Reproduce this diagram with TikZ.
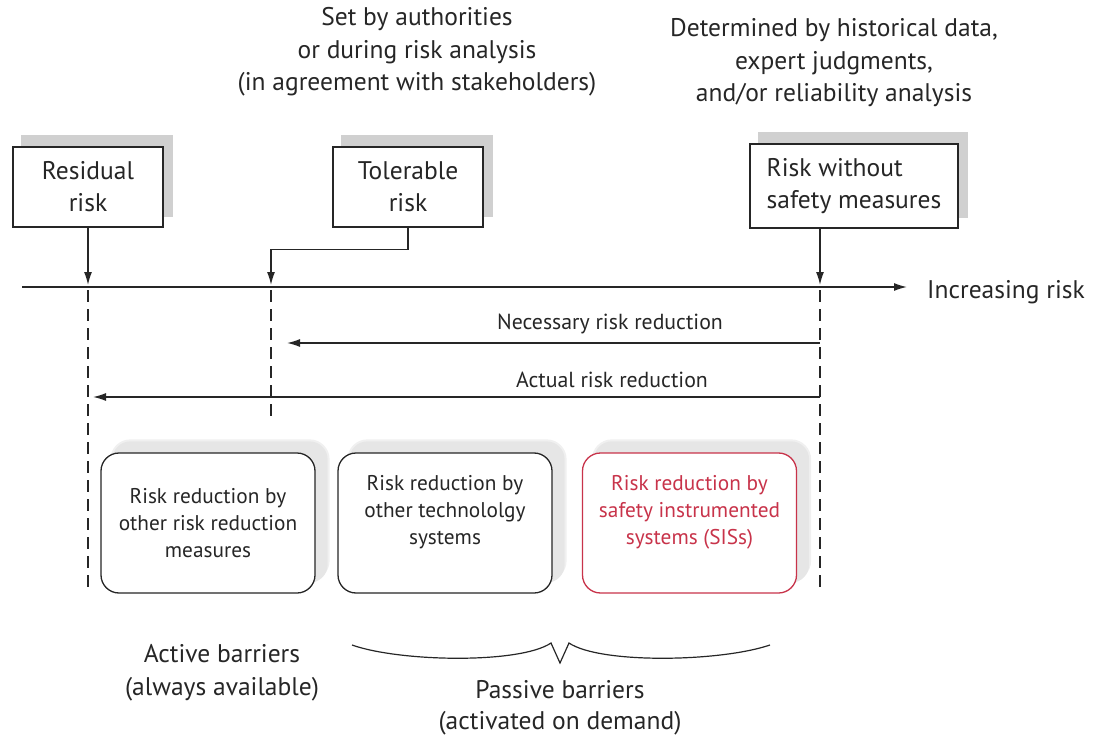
\documentclass[tikz,border=0pt]{standalone}
\usepackage{fontspec}
\setmainfont{PT Sans}
\usetikzlibrary{arrows.meta,backgrounds}
\definecolor{ink}{HTML}{262626}
\definecolor{boxshade}{HTML}{D0D0D0}
\definecolor{softshade}{HTML}{E6E6E6}
\definecolor{sisred}{HTML}{C8334A}
\begin{document}
\begin{tikzpicture}[x=1pt,y=-1pt,
  every node/.style={text=ink, inner sep=0pt},
  labelbox/.style={draw=ink, line width=1.4pt, fill=white, minimum width=150pt,
    minimum height=80pt, align=center, font=\fontsize{25.5}{32}\selectfont},
  barrier/.style={draw=ink, line width=1.3pt, fill=white, rounded corners=18pt,
    minimum width=214pt, minimum height=140pt, align=center,
    font=\fontsize{21.3}{27}\selectfont},
  notetext/.style={align=center, font=\fontsize{25.5}{32.5}\selectfont},
  smalltext/.style={font=\fontsize{21.8}{24}\selectfont},
  linkarrow/.style={draw=ink, line width=1.4pt, -{Latex[length=13pt,width=8pt]}},
  guideline/.style={draw=ink, line width=1.3pt, dash pattern=on 12pt off 7pt},
]
\useasboundingbox (0,0) rectangle (1095,738);

% explanatory notes above the boxes
\node[notetext] (authnote) at (417,52) {Set by authorities\\or during risk analysis\\(in agreement with stakeholders)};
\node[notetext] (datanote) at (834,63) {Determined by historical data,\\expert judgments,\\and/or reliability analysis};

% risk level boxes
\node[labelbox] (resid) at (88,187) {Residual\\risk};
\node[labelbox] (toler) at (408,187) {Tolerable\\risk};
\node[labelbox, minimum width=208pt, minimum height=84pt, align=left] (nosafe) at (854,186) {Risk without\\safety measures};

% barrier boxes
\node[barrier] (otherrr) at (208,523) {Risk reduction by\\other risk reduction\\measures};
\node[barrier] (othertech) at (445,523) {Risk reduction by\\other technololgy\\systems\\\mbox{}};
\node[barrier, draw=sisred, text=sisred] (sis) at (689.5,523) {Risk reduction by\\safety instrumented\\systems (SISs)\\\mbox{}};

% drop shadows behind the boxes
\begin{scope}[on background layer]
  \foreach \b in {resid,toler,nosafe}
    \fill[boxshade] ([shift={(9,-11)}]\b.south west) rectangle ([shift={(9,-11)}]\b.north east);
  \foreach \b in {otherrr,othertech,sis}{
    \fill[softshade, opacity=0.6, rounded corners=20pt] ([shift={(10,-13)}]\b.south west) rectangle ([shift={(14,-13)}]\b.north east);
    \fill[softshade, rounded corners=18pt] ([shift={(12,-11)}]\b.south west) rectangle ([shift={(12,-11)}]\b.north east);
  }
\end{scope}

% risk axis
\coordinate (axstart) at (22,287);
\coordinate (axend) at (907,287);
\draw[linkarrow] (axstart) -- (axend);
\node[anchor=west, font=\fontsize{25.5}{28}\selectfont] (incr) at (927,292) {Increasing risk};

% markers on the axis
\coordinate (residmark) at (88,285);
\coordinate (tolmark) at (271,285);
\coordinate (rwmark) at (820,285);
\draw[linkarrow] (resid.south) -- (residmark);
\draw[linkarrow] (toler.south) -- ++(0,22) -| (tolmark);
\draw[linkarrow] (nosafe.south -| rwmark) -- (rwmark);

% dashed guides
\coordinate (residtop) at (88,290);
\coordinate (residbot) at (88,592);
\coordinate (toltop) at (271,290);
\coordinate (tolbot) at (271,420);
\coordinate (rwtop) at (820,290);
\coordinate (rwbot) at (820,592);
\draw[guideline] (residtop) -- (residbot);
\draw[guideline] (toltop) -- (tolbot);
\draw[guideline] (rwtop) -- (rwbot);

% reduction arrows
\coordinate (necstart) at (820,343);
\coordinate (necend) at (287,343);
\coordinate (actstart) at (820,397);
\coordinate (actend) at (93,397);
\draw[linkarrow] (necstart) -- (necend);
\draw[linkarrow] (actstart) -- (actend);
\node[smalltext] (neclabel) at (610,324) {Necessary risk reduction};
\node[smalltext] (actlabel) at (612,380) {Actual risk reduction};

% barrier categories
\node[notetext, font=\fontsize{25.5}{33}\selectfont] (active) at (222,673) {Active barriers\\(always available)};
\draw[ink, line width=1.2pt, line join=miter]
  (352,645) .. controls (400,662) and (520,664) .. (551,643)
  -- (560,663) -- (569,643)
  .. controls (600,664) and (720,662) .. (770,645);
\node[notetext, font=\fontsize{25.5}{31}\selectfont] (passive) at (560,708) {Passive barriers\\(activated on demand)};
\end{tikzpicture}
\end{document}
